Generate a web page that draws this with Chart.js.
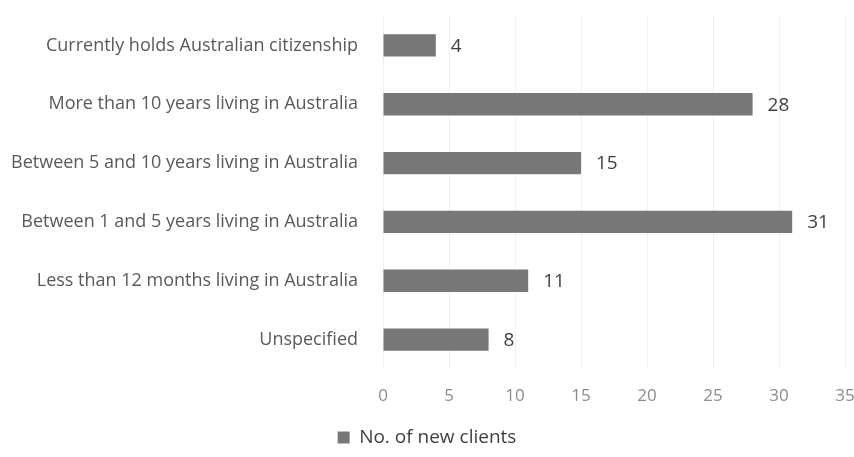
<!DOCTYPE html>
<html>
<head>
<meta charset="utf-8">
<script src="https://cdn.jsdelivr.net/npm/chart.js@4/dist/chart.umd.min.js"></script>
<style>
  html, body { margin: 0; padding: 0; background: #fff; }
  #wrap { width: 854px; height: 457px; }
</style>
</head>
<body>
<div id="wrap"><canvas id="c" width="854" height="457"></canvas></div>
<script>
// 数据
const categories = [
  'Currently holds Australian citizenship',
  'More than 10 years living in Australia',
  'Between 5 and 10 years living in Australia',
  'Between 1 and 5 years living in Australia',
  'Less than 12 months living in Australia',
  'Unspecified'
];
const clientCounts = [4, 28, 15, 31, 11, 8];
const seriesName = 'No. of new clients';
const xTicks = [0, 5, 10, 15, 20, 25, 30, 35];

const FONT = "'Open Sans', sans-serif";
Chart.defaults.font.family = FONT;
Chart.defaults.font.size = 15;

// 柱末端数值标签
const valueLabels = {
  id: 'valueLabels',
  afterDatasetsDraw(chart) {
    const { ctx } = chart;
    const meta = chart.getDatasetMeta(0);
    ctx.save();
    ctx.fillStyle = '#404040';
    ctx.font = '19px ' + FONT;
    ctx.textAlign = 'left';
    ctx.textBaseline = 'middle';
    meta.data.forEach((bar, i) => {
      ctx.fillText(String(clientCounts[i]), bar.x + 15, bar.y + 1);
    });
    ctx.restore();
  }
};

new Chart(document.getElementById('c'), {
  type: 'bar',
  data: {
    labels: categories,
    datasets: [{
      label: seriesName,
      data: clientCounts,
      backgroundColor: '#777777',
      borderWidth: 0,
      categoryPercentage: 1,
      barPercentage: 0.38
    }]
  },
  plugins: [valueLabels],
  options: {
    indexAxis: 'y',
    responsive: false,
    animation: false,
    layout: { padding: { top: 16, right: 0, bottom: 0, left: 0 } },
    scales: {
      x: {
        min: 0,
        max: 35,
        afterBuildTicks(scale) { scale.ticks = xTicks.map(v => ({ value: v })); },
        afterFit(scale) {
          scale.paddingRight = 9;
          scale.height = 59;
        },
        grid: { color: '#f0f0f0', drawTicks: false },
        border: { display: false },
        ticks: { color: '#8c8c8c', padding: 17, font: { size: 17 } }
      },
      y: {
        afterFit(scale) {
          scale.width = 383;
          scale.paddingTop = 0;
          scale.paddingBottom = 0;
        },
        grid: { display: false },
        border: { display: false },
        ticks: { color: '#595959', padding: 17, font: { size: 18 } }
      }
    },
    plugins: {
      legend: {
        position: 'bottom',
        labels: {
          boxWidth: 12,
          boxHeight: 12,
          color: '#404040',
          padding: 0,
          font: { size: 19 }
        }
      },
      tooltip: { enabled: false }
    }
  }
});
</script>
</body>
</html>
